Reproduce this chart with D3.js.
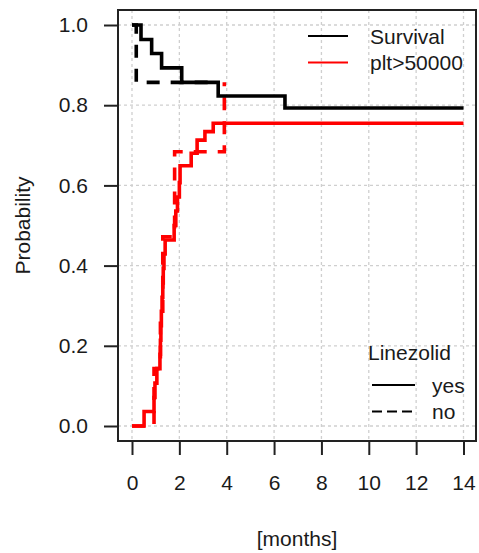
<!DOCTYPE html>
<html><head><meta charset="utf-8">
<script src="https://cdn.jsdelivr.net/npm/d3@7"></script>
<style>
body{margin:0;background:#fff;}
svg{display:block;}
text{font-family:"Liberation Sans",Arial,sans-serif;fill:#1a1a1a;}
</style></head>
<body><svg id="c" width="479" height="553"></svg>
<script>
// ---- data ----
const survYesT = [0, 0.38, 0.83, 1.25, 2.1, 3.64, 6.46, 14];
const survYesV = [1, 0.964, 0.929, 0.893, 0.857, 0.823, 0.793, 0.793];
const survNoT  = [0, 0.18, 3.6];
const survNoV  = [1, 0.857, 0.857];
const pltYesT = [0, 0.51, 0.93, 0.97, 1.05, 1.18, 1.2, 1.22, 1.24, 1.27, 1.3, 1.32, 1.35, 1.4, 1.78, 1.85, 1.92, 2.0, 2.03, 2.5, 2.75, 3.08, 3.43, 14];
const pltYesV = [0, 0.036, 0.071, 0.107, 0.143, 0.179, 0.214, 0.25, 0.286, 0.321, 0.357, 0.393, 0.429, 0.464, 0.5, 0.536, 0.571, 0.607, 0.649, 0.68, 0.713, 0.734, 0.755, 0.755];
const pltNoT = [0, 0.93, 1.2, 1.3, 1.8, 3.9];
const pltNoV = [0, 0.143, 0.286, 0.472, 0.684, 0.857];
const xTicks = [0, 2, 4, 6, 8, 10, 12, 14];
const yTicks = [0, 0.2, 0.4, 0.6, 0.8, 1.0];
const endpointLabels = ["Survival", "plt>50000"];
const endpointColors = ["#000000", "#ff0000"];
const groupLabels = ["yes", "no"];
const groupTitle = "Linezolid";
const xTitle = "[months]";
const yTitle = "Probability";

// ---- layout ----
const box = {l:118, r:476, t:10, b:441};
const svg = d3.select("#c");
const x = d3.scaleLinear().domain([0,14]).range([132,463.5]);
const y = d3.scaleLinear().domain([0,1]).range([426,25]);
const FS = 21;

// grid
const grid = svg.append("g").attr("stroke","#cfcfcf").attr("stroke-width",1.3).attr("stroke-dasharray","3,3");
grid.selectAll(".gx").data(xTicks).join("line")
  .attr("x1",d=>x(d)).attr("x2",d=>x(d)).attr("y1",box.t).attr("y2",box.b);
grid.selectAll(".gy").data(yTicks).join("line")
  .attr("y1",d=>y(d)).attr("y2",d=>y(d)).attr("x1",box.l).attr("x2",box.r);

// curves
const line = d3.line().x(d=>x(d[0])).y(d=>y(d[1])).curve(d3.curveStepAfter);
function curve(T,V,color,dash){
  svg.append("path").datum(T.map((t,i)=>[t,V[i]]))
    .attr("d",line).attr("fill","none").attr("stroke",color)
    .attr("stroke-width",3.6).attr("stroke-dasharray",dash||null);
}
curve(survNoT, survNoV, endpointColors[0], "13,11");
curve(pltNoT, pltNoV, endpointColors[1], "13,11");
curve(survYesT, survYesV, endpointColors[0]);
curve(pltYesT, pltYesV, endpointColors[1]);

// box
svg.append("rect").attr("x",box.l).attr("y",box.t).attr("width",box.r-box.l).attr("height",box.b-box.t)
  .attr("fill","none").attr("stroke","#222").attr("stroke-width",2);

// axes
const ay = svg.append("g").attr("transform",`translate(${box.l},0)`)
  .call(d3.axisLeft(y).tickValues(yTicks).tickFormat(d3.format(".1f")).tickSize(14).tickPadding(16));
const ax = svg.append("g").attr("transform",`translate(0,${box.b})`)
  .call(d3.axisBottom(x).tickValues(xTicks).tickFormat(d3.format("d")).tickSize(14).tickPadding(20));
[ax,ay].forEach(a=>{
  a.select(".domain").remove();
  a.selectAll(".tick line").attr("stroke","#222").attr("stroke-width",2);
  a.selectAll(".tick text").attr("font-size",FS).attr("font-family","Liberation Sans, Arial, sans-serif").attr("fill","#1a1a1a");
});

// titles
svg.append("text").attr("x",(box.l+box.r)/2).attr("y",546).attr("text-anchor","middle").attr("font-size",FS).text(xTitle);
svg.append("text").attr("transform",`translate(30,${(box.t+box.b)/2}) rotate(-90)`).attr("text-anchor","middle").attr("font-size",FS).text(yTitle);

// top legend
const lg = svg.append("g");
endpointLabels.forEach((lab,i)=>{
  const yy = 36 + i*26.5;
  lg.append("line").attr("x1",308).attr("x2",348).attr("y1",yy).attr("y2",yy).attr("stroke",endpointColors[i]).attr("stroke-width",2);
  lg.append("text").attr("x",370).attr("y",yy+7.5).attr("font-size",FS).text(lab);
});

// bottom legend
svg.append("text").attr("x",368).attr("y",360).attr("font-size",FS).text(groupTitle);
groupLabels.forEach((lab,i)=>{
  const yy = 385 + i*26.5;
  svg.append("line").attr("x1",372).attr("x2",415).attr("y1",yy).attr("y2",yy)
    .attr("stroke","#000").attr("stroke-width",2).attr("stroke-dasharray", i===1?"10,5":null);
  svg.append("text").attr("x",432).attr("y",yy+7.5).attr("font-size",FS).text(lab);
});
</script></body></html>
